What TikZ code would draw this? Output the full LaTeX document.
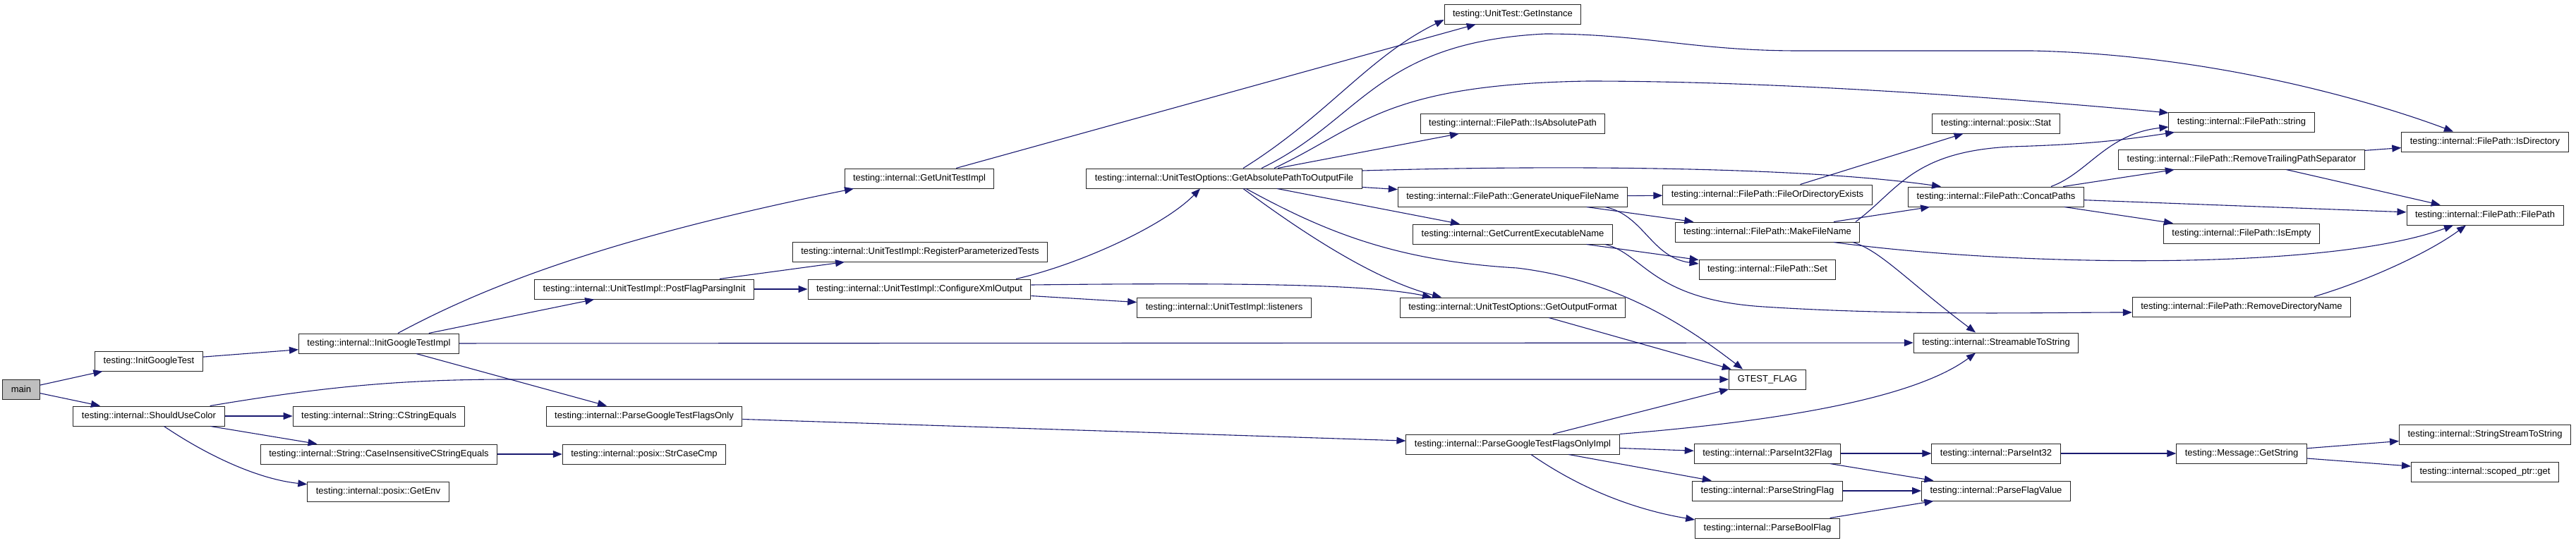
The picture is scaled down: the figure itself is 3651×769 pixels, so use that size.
\documentclass[tikz,border=0pt]{standalone}
\usepackage{fontspec}
\setmainfont{Liberation Sans}
\usepackage{tikz}
\usetikzlibrary{arrows.meta}
\definecolor{edgeblue}{HTML}{191970}
\definecolor{rootgray}{HTML}{BFBFBF}

\begin{document}
\begin{tikzpicture}[x=1pt, y=-1pt, font=\fontsize{13}{15}\selectfont, >={Triangle[length=13pt,width=10pt]},
  fn/.style={draw=black!85, line width=1pt, fill=white, minimum height=28pt, inner xsep=12pt, inner ysep=2pt},
  call/.style={->, draw=edgeblue, line width=1.1pt}]
  \useasboundingbox (0,0) rectangle (3651,769);
  \node[fn, fill=rootgray] (main) at (30,552) {main};
  \node[fn] (igt) at (211,512) {testing::InitGoogleTest};
  \node[fn] (suc) at (211,590) {testing::internal::ShouldUseColor};
  \node[fn] (igti) at (537,487) {testing::internal::InitGoogleTestImpl};
  \node[fn] (cse) at (537,590) {testing::internal::String::CStringEquals};
  \node[fn] (cice) at (537,644) {testing::internal::String::CaseInsensitiveCStringEquals};
  \node[fn] (getenv) at (536,697) {testing::internal::posix::GetEnv};
  \node[fn] (pfpi) at (913,410) {testing::internal::UnitTestImpl::PostFlagParsingInit};
  \node[fn] (pgtfo) at (913,590) {testing::internal::ParseGoogleTestFlagsOnly};
  \node[fn] (strcmp) at (913,644) {testing::internal::posix::StrCaseCmp};
  \node[fn] (guti) at (1303,253) {testing::internal::GetUnitTestImpl};
  \node[fn] (rpt) at (1304,357) {testing::internal::UnitTestImpl::RegisterParameterizedTests};
  \node[fn] (cxo) at (1303,410) {testing::internal::UnitTestImpl::ConfigureXmlOutput};
  \node[fn] (gapt) at (1735,253) {testing::internal::UnitTestOptions::GetAbsolutePathToOutputFile};
  \node[fn] (lis) at (1735,436) {testing::internal::UnitTestImpl::listeners};
  \node[fn] (ginst) at (2144,20) {testing::UnitTest::GetInstance};
  \node[fn] (iap) at (2144,175) {testing::internal::FilePath::IsAbsolutePath};
  \node[fn] (gufn) at (2144,279) {testing::internal::FilePath::GenerateUniqueFileName};
  \node[fn] (gcen) at (2144,332) {testing::internal::GetCurrentExecutableName};
  \node[fn] (gof) at (2144,436) {testing::internal::UnitTestOptions::GetOutputFormat};
  \node[fn] (pgtfoi) at (2144,630) {testing::internal::ParseGoogleTestFlagsOnlyImpl};
  \node[fn] (fode) at (2505,276) {testing::internal::FilePath::FileOrDirectoryExists};
  \node[fn] (mfn) at (2505,329) {testing::internal::FilePath::MakeFileName};
  \node[fn] (fpset) at (2505,382) {testing::internal::FilePath::Set};
  \node[fn] (gflag) at (2505,538) {GTEST\_FLAG};
  \node[fn] (pi32f) at (2505,643) {testing::internal::ParseInt32Flag};
  \node[fn] (psf) at (2505,696) {testing::internal::ParseStringFlag};
  \node[fn] (pbf) at (2505,749) {testing::internal::ParseBoolFlag};
  \node[fn] (stat) at (2829,175) {testing::internal::posix::Stat};
  \node[fn] (concat) at (2829,279) {testing::internal::FilePath::ConcatPaths};
  \node[fn] (sts) at (2829,486) {testing::internal::StreamableToString};
  \node[fn] (pi32) at (2829,643) {testing::internal::ParseInt32};
  \node[fn] (pfv) at (2829,696) {testing::internal::ParseFlagValue};
  \node[fn] (fpstr) at (3177,173) {testing::internal::FilePath::string};
  \node[fn] (rtps) at (3177,226) {testing::internal::FilePath::RemoveTrailingPathSeparator};
  \node[fn] (isempty) at (3177,331) {testing::internal::FilePath::IsEmpty};
  \node[fn] (rdn) at (3177,435) {testing::internal::FilePath::RemoveDirectoryName};
  \node[fn] (getstr) at (3177,643) {testing::Message::GetString};
  \node[fn] (isdir) at (3522,201) {testing::internal::FilePath::IsDirectory};
  \node[fn] (fpfp) at (3522,305) {testing::internal::FilePath::FilePath};
  \node[fn] (sstts) at (3522,616) {testing::internal::StringStreamToString};
  \node[fn] (sptr) at (3522,669) {testing::internal::scoped\_ptr::get};
  % straight calls first, then the bent ones
  \foreach \a/\b in {main/igt, main/suc, igt/igti, suc/cse, suc/cice, cice/strcmp,
      igti/pfpi, igti/sts, igti/pgtfo, guti/ginst, pfpi/rpt, pfpi/cxo, cxo/lis,
      gapt/iap, gapt/gufn, gapt/gcen, gof/gflag, pgtfoi/gflag, pgtfoi/pi32f,
      pgtfoi/psf, pgtfo/pgtfoi, gufn/fode, gufn/mfn, gcen/fpset, mfn/concat,
      concat/rtps, concat/fpfp, concat/isempty, rtps/isdir, rtps/fpfp, fode/stat,
      pi32f/pi32, pi32f/pfv, psf/pfv, pbf/pfv, pi32/getstr, getstr/sstts, getstr/sptr}
    \draw[call] (\a) -- (\b);
  \draw[call] (suc) .. controls (450,550) and (560,538) .. (720,538) -- (gflag);
  \draw[call] (suc) .. controls (300,650) and (370,680) .. (getenv);
  \draw[call] (igti) .. controls (680,410) and (850,340) .. ([xshift=-93pt]guti.south);
  \draw[call] ([xshift=137pt]cxo.north) .. controls (1530,375) and (1650,320) .. ([xshift=-34pt]gapt.south);
  \draw[call] ([yshift=6pt]cxo.east) .. controls (1800,400) and (1950,405) .. ([xshift=-115pt]gof.north);
  \draw[call] ([xshift=27pt]gapt.north) .. controls (1880,165) and (1940,80) .. ([yshift=-8pt]ginst.west);
  \draw[call] ([xshift=53pt]gapt.north) .. controls (1930,170) and (1950,60) .. (2190,48)
    .. controls (2330,48) and (2400,72) .. (2550,72) -- (2880,72)
    .. controls (3150,78) and (3380,150) .. ([xshift=-45pt]isdir.north);
  \draw[call] ([xshift=71pt]gapt.north) .. controls (1930,180) and (1960,120) .. (2250,115)
    .. controls (2500,115) and (2800,135) .. ([yshift=13pt]fpstr.west);
  \draw[call] ([yshift=11pt]gapt.east) .. controls (2200,234) and (2550,236) .. ([xshift=-78pt]concat.north);
  \draw[call] ([xshift=27pt]gapt.south) .. controls (1900,370) and (1980,405) .. ([xshift=-101pt]gof.north);
  \draw[call] ([xshift=31pt]gapt.south) .. controls (1880,330) and (1980,370) .. (2150,380)
    .. controls (2300,398) and (2400,470) .. ([xshift=-35pt]gflag.north);
  \draw[call] ([xshift=121pt]mfn.south) .. controls (2665,355) and (2705,400) .. ([xshift=-29pt]sts.north);
  \draw[call] (pgtfoi.north east) .. controls (2550,595) and (2720,560) .. ([xshift=-29pt]sts.south);
  \draw[call] ([xshift=26pt]pgtfoi.south) .. controls (2250,700) and (2330,725) .. ([yshift=12pt]pbf.west);
  \draw[call] ([xshift=131pt]gufn.south) .. controls (2330,305) and (2340,365) .. ([yshift=8pt]fpset.west);
  \draw[call] ([xshift=131pt]gcen.south) .. controls (2330,360) and (2340,425) .. (2500,435)
    .. controls (2700,448) and (2900,443) .. ([yshift=-8pt]rdn.west);
  \draw[call] ([xshift=125pt]mfn.north) .. controls (2690,270) and (2710,215) .. (2850,208)
    .. controls (2950,205) and (3000,200) .. ([xshift=-95pt]fpstr.south);
  \draw[call] ([xshift=78pt]concat.north) .. controls (2960,245) and (2985,190) .. ([yshift=-7pt]fpstr.west);
  \draw[call] ([xshift=94pt]mfn.south) .. controls (2850,378) and (3300,385) .. ([xshift=-45pt]fpfp.south);
  \draw[call] ([xshift=103pt]rdn.north) .. controls (3350,400) and (3440,360) .. ([xshift=-27pt]fpfp.south);
\end{tikzpicture}
\end{document}
